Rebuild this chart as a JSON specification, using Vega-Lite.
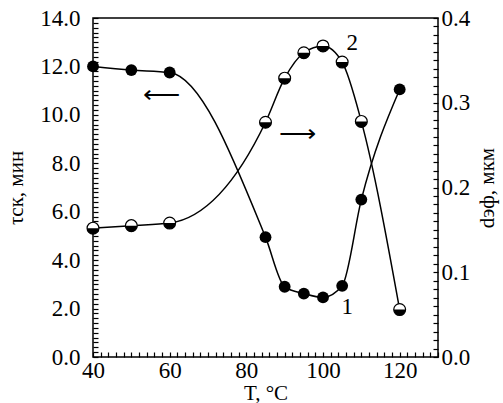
{
  "$schema": "https://vega.github.io/schema/vega-lite/v6.json",
  "width": 345,
  "height": 339,
  "autosize": {"type": "none"},
  "padding": {"left": 93, "top": 18, "right": 65, "bottom": 46},
  "background": "white",
  "config": {
    "view": {"stroke": "black", "strokeWidth": 1.5},
    "font": "Liberation Serif",
    "axis": {"domain": false, "ticks": true, "tickColor": "black", "tickWidth": 1.2, "tickSize": 5, "grid": false, "labelColor": "black", "titleColor": "black", "labelFont": "Liberation Serif", "titleFont": "Liberation Serif", "labelFontSize": 23, "titleFontSize": 21, "titleFontWeight": "normal", "labelOverlap": false, "labelFlush": false, "tickCount": 200, "offset": -5},
    "axisX": {"ticks": true, "tickColor": "black", "tickWidth": 1.2, "tickSize": 5},
    "axisY": {"ticks": true, "tickColor": "black", "tickWidth": 1.2, "tickSize": 5},
    "axisLeft": {"ticks": true, "tickColor": "black", "tickWidth": 1.2, "tickSize": 5},
    "axisRight": {"ticks": true, "tickColor": "black", "tickWidth": 1.2, "tickSize": 5},
    "axisBottom": {"ticks": true, "tickColor": "black", "tickWidth": 1.2, "tickSize": 5},
    "axisQuantitative": {"ticks": true, "tickColor": "black", "tickWidth": 1.2, "tickSize": 5}
  },
  "datasets": {
    "pts": [
      {"T": 40, "tau": 12.0, "d": 0.152},
      {"T": 50, "tau": 11.85, "d": 0.155},
      {"T": 60, "tau": 11.75, "d": 0.158},
      {"T": 85, "tau": 4.95, "d": 0.277},
      {"T": 90, "tau": 2.9, "d": 0.329},
      {"T": 95, "tau": 2.62, "d": 0.359},
      {"T": 100, "tau": 2.46, "d": 0.367},
      {"T": 105, "tau": 2.94, "d": 0.348},
      {"T": 110, "tau": 6.5, "d": 0.278},
      {"T": 120, "tau": 11.05, "d": 0.056}
    ],
    "notes": [
      {"T": 107.6, "tau": 12.97, "label": "2", "kind": "num"},
      {"T": 106.3, "tau": 2.07, "label": "1", "kind": "num"},
      {"T": 57.8, "tau": 10.8, "label": "⟵", "kind": "arrow"},
      {"T": 93.3, "tau": 9.2, "label": "⟶", "kind": "arrow"}
    ]
  },
  "layer": [
    {
      "layer": [
        {
          "data": {"name": "pts"},
          "mark": {"type": "line", "interpolate": "monotone", "color": "black", "strokeWidth": 1.5},
          "encoding": {
            "x": {"field": "T", "type": "quantitative", "scale": {"domain": [40, 130], "nice": false, "zero": false},
              "axis": {"title": "T, °C", "ticks": true, "tickColor": "black", "tickWidth": 1.2, "tickSize": 5, "offset": -5, "tickCount": 200, "values": [40,42,44,46,48,50,52,54,56,58,60,62,64,66,68,70,72,74,76,78,80,82,84,86,88,90,92,94,96,98,100,102,104,106,108,110,112,114,116,118,120,122,124,126,128,130],
                "labelExpr": "datum.value % 20 == 0 ? datum.value : ''", "labelPadding": 2, "titlePadding": 0}},
            "y": {"field": "tau", "type": "quantitative", "scale": {"domain": [0, 14], "nice": false},
              "axis": {"title": "τск, мин", "ticks": true, "tickColor": "black", "tickWidth": 1.2, "tickSize": 5, "offset": -5, "tickCount": 200, "values": [0,0.2,0.4,0.6,0.8,1,1.2,1.4,1.6,1.8,2,2.2,2.4,2.6,2.8,3,3.2,3.4,3.6,3.8,4,4.2,4.4,4.6,4.8,5,5.2,5.4,5.6,5.8,6,6.2,6.4,6.6,6.8,7,7.2,7.4,7.6,7.8,8,8.2,8.4,8.6,8.8,9,9.2,9.4,9.6,9.8,10,10.2,10.4,10.6,10.8,11,11.2,11.4,11.6,11.8,12,12.2,12.4,12.6,12.8,13,13.2,13.4,13.6,13.8,14],
                "labelExpr": "abs(datum.value/2 - round(datum.value/2)) < 0.001 ? format(datum.value, '.1f') : ''", "labelPadding": 13, "titlePadding": 13}}
          }
        },
        {
          "data": {"name": "pts"},
          "mark": {"type": "point", "filled": true, "color": "black", "size": 140, "opacity": 1},
          "encoding": {
            "x": {"field": "T", "type": "quantitative"},
            "y": {"field": "tau", "type": "quantitative"}
          }
        },
        {
          "data": {"name": "notes"},
          "transform": [{"filter": "datum.kind == 'num'"}],
          "mark": {"type": "text", "fontSize": 23, "color": "black", "font": "Liberation Serif"},
          "encoding": {
            "x": {"field": "T", "type": "quantitative"},
            "y": {"field": "tau", "type": "quantitative"},
            "text": {"field": "label"}
          }
        },
        {
          "data": {"name": "notes"},
          "transform": [{"filter": "datum.kind == 'arrow'"}],
          "mark": {"type": "text", "fontSize": 26, "color": "black", "font": "DejaVu Sans", "fontWeight": 300},
          "encoding": {
            "x": {"field": "T", "type": "quantitative"},
            "y": {"field": "tau", "type": "quantitative"},
            "text": {"field": "label"}
          }
        }
      ]
    },
    {
      "layer": [
        {
          "data": {"name": "pts"},
          "mark": {"type": "line", "interpolate": "monotone", "color": "black", "strokeWidth": 1.5},
          "encoding": {
            "x": {"field": "T", "type": "quantitative"},
            "y": {"field": "d", "type": "quantitative", "scale": {"domain": [0, 0.4], "nice": false},
              "axis": {"orient": "right", "title": "dэф, мкм", "titleAngle": 270, "ticks": true, "tickColor": "black", "tickWidth": 1.2, "tickSize": 5, "offset": -5, "tickCount": 200, "values": [0,0.01,0.02,0.03,0.04,0.05,0.06,0.07,0.08,0.09,0.1,0.11,0.12,0.13,0.14,0.15,0.16,0.17,0.18,0.19,0.2,0.21,0.22,0.23,0.24,0.25,0.26,0.27,0.28,0.29,0.3,0.31,0.32,0.33,0.34,0.35,0.36,0.37,0.38,0.39,0.4],
                "labelExpr": "abs(datum.value*10 - round(datum.value*10)) < 0.001 ? format(datum.value, '.1f') : ''", "labelPadding": 3, "titlePadding": 28}}
          }
        },
        {
          "data": {"name": "pts"},
          "mark": {"type": "point", "filled": true, "fill": "white", "stroke": "black", "strokeWidth": 1.2, "size": 140, "opacity": 1},
          "encoding": {
            "x": {"field": "T", "type": "quantitative"},
            "y": {"field": "d", "type": "quantitative"}
          }
        },
        {
          "data": {"name": "pts"},
          "mark": {"type": "point", "filled": true, "color": "black", "shape": "M -1 0 A 1 1 0 0 0 1 0 Z", "size": 140, "opacity": 1},
          "encoding": {
            "x": {"field": "T", "type": "quantitative"},
            "y": {"field": "d", "type": "quantitative"}
          }
        }
      ]
    }
  ],
  "resolve": {"scale": {"y": "independent"}}
}
